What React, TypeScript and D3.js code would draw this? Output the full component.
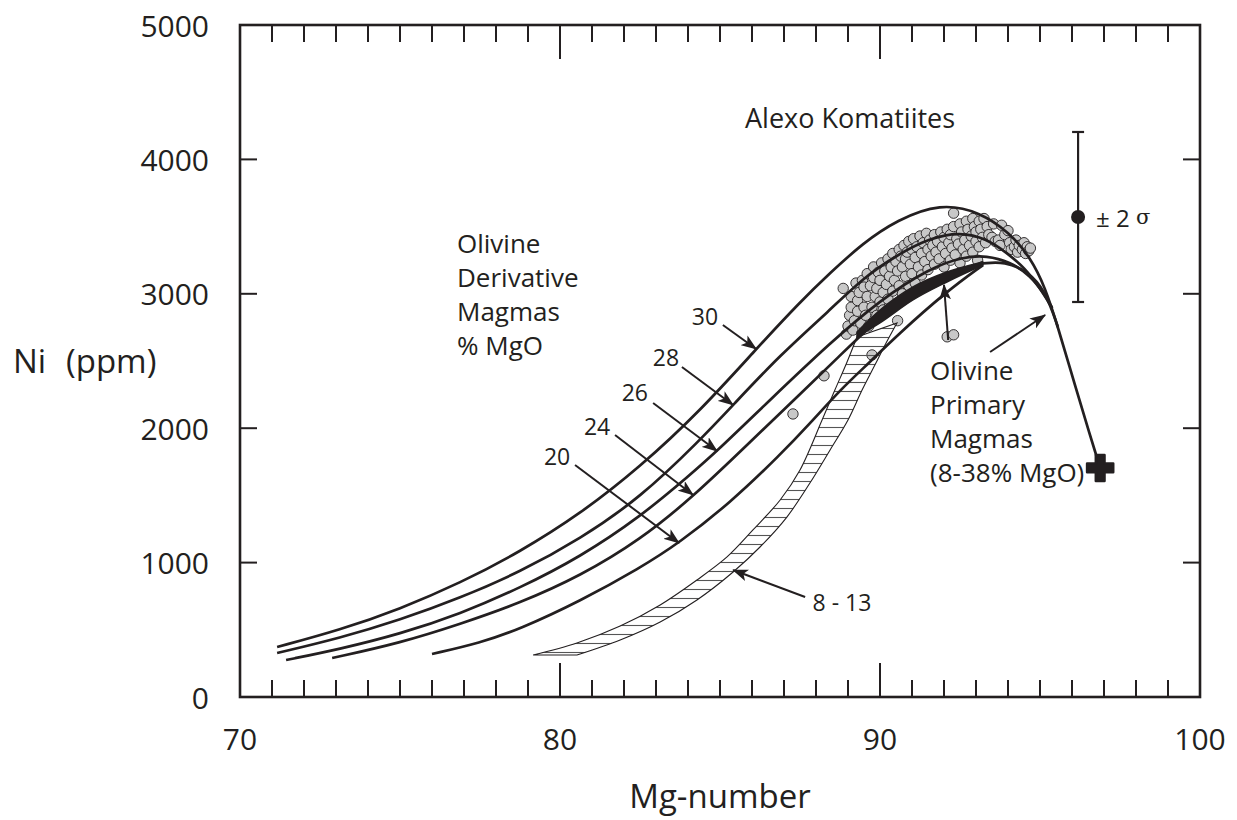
import React from 'react';
import * as d3 from 'd3';

const W = 1237;
const H = 820;
const FONT = '"Open Sans", "Noto Sans", sans-serif';
const INK = '#231f20';

// Axis ticks
const xLabelTicks = [70, 80, 90, 100];
const xMajorInner = [80, 90];
const xMinorTicks = [71, 72, 73, 74, 75, 76, 77, 78, 79, 81, 82, 83, 84, 85, 86, 87, 88, 89, 91, 92, 93, 94, 95, 96, 97, 98, 99];
const yLabelTicks = [0, 1000, 2000, 3000, 4000, 5000];
const yInnerTicks = [1000, 2000, 3000, 4000];

// Olivine derivative magma curves, [Mg-number, Ni ppm]
const curve30: [number, number][] = [
  [71.16, 372], [73.13, 499], [75.0, 655], [76.88, 848], [78.75, 1080], [80.63, 1362],
  [82.5, 1711], [84.38, 2128], [86.13, 2589], [87.5, 2939], [88.44, 3155], [89.47, 3378],
  [90.53, 3549], [91.88, 3675], [93.13, 3610], [94.06, 3452], [94.69, 3274], [95.16, 3051],
  [95.56, 2753], [96.09, 2321], [96.56, 1949], [96.88, 1704],
];
const curve28: [number, number][] = [
  [71.16, 327], [73.13, 439], [75.0, 573], [76.88, 737], [78.75, 930], [80.63, 1176],
  [82.5, 1481], [84.38, 1912], [85.41, 2173], [86.88, 2545], [88.44, 2879], [89.47, 3118],
  [90.53, 3289], [91.56, 3415], [92.5, 3460], [93.34, 3410], [93.97, 3304], [94.53, 3192],
  [95.0, 3043], [95.38, 2894],
];
const curve26: [number, number][] = [
  [71.44, 275], [73.13, 357], [75.0, 469], [76.88, 618], [78.75, 811], [80.63, 1042],
  [82.5, 1339], [84.06, 1652], [84.91, 1830], [86.56, 2210], [88.44, 2634], [90.0, 2954],
  [91.56, 3192], [92.59, 3275], [93.34, 3285], [94.06, 3237], [94.69, 3140], [95.16, 2991],
  [95.38, 2894],
];
const curve24: [number, number][] = [
  [72.88, 290], [75.0, 402], [76.88, 543], [78.75, 699], [80.63, 900], [82.5, 1168],
  [84.19, 1496], [85.94, 1897], [87.5, 2254], [88.75, 2540], [89.69, 2760], [90.63, 2930],
  [91.88, 3100], [93.22, 3237],
];
const curve20: [number, number][] = [
  [76.0, 320], [77.5, 402], [78.75, 506], [80.63, 714], [82.5, 960], [83.72, 1146],
  [85.31, 1443], [86.88, 1801], [87.91, 2061], [88.75, 2284], [89.69, 2493], [90.53, 2690],
  [92.09, 3020], [93.22, 3214],
];
// Olivine primary magmas beyond the 38% MgO end
const primaryTail: [number, number][] = [
  [93.22, 3226], [93.9, 3240], [94.6, 3170], [95.16, 3028], [95.56, 2753],
];

// Olivine primary magmas 8-38% MgO band: Mg-number, lower Ni, upper Ni
const primaryBandMg = [89.28, 90.0, 91.03, 92.09, 93.22];
const primaryBandLow = [2679, 2783, 2954, 3088, 3214];
const primaryBandHigh = [2716, 2879, 3051, 3162, 3237];

// 8 - 13 % MgO derivative band edges
const band813Upper: [number, number][] = [
  [79.16, 312], [80.53, 402], [81.88, 528], [83.13, 685], [84.28, 871], [85.22, 1042],
  [86.03, 1243], [86.88, 1466], [87.5, 1689], [88.19, 2061], [88.59, 2284], [88.97, 2493],
  [89.28, 2679],
];
const band813Lower: [number, number][] = [
  [80.53, 312], [81.88, 424], [83.13, 558], [84.28, 722], [85.41, 930], [86.25, 1116],
  [87.09, 1339], [87.81, 1592], [88.44, 1838], [89.0, 2061], [89.44, 2284], [89.84, 2470],
  [90.19, 2634], [90.53, 2783],
];

// Alexo komatiite olivines
const alexo: [number, number][] = [
  [88.85, 3040], [88.95, 2700], [89.0, 2760], [89.05, 2840], [89.1, 2900], [89.1, 2980],
  [89.15, 2730], [89.2, 2800], [89.25, 3080], [89.3, 2870], [89.3, 2950], [89.35, 3010],
  [89.4, 2780], [89.45, 3100], [89.5, 2900], [89.5, 3050], [89.55, 2840], [89.6, 2980],
  [89.6, 3150], [89.65, 2760], [89.7, 3060], [89.75, 2900], [89.8, 3120], [89.8, 3200],
  [89.85, 2980], [89.9, 2840], [89.9, 3040], [89.95, 3160], [90.0, 2940], [90.0, 3100],
  [90.05, 3230], [90.1, 2880], [90.1, 3010], [90.15, 3170], [90.2, 3070], [90.25, 2960],
  [90.25, 3260], [90.3, 3130], [90.35, 3200], [90.4, 3020], [90.4, 3300], [90.45, 3100],
  [90.5, 2920], [90.5, 3240], [90.55, 3170], [90.6, 3330], [90.6, 3060], [90.65, 3280],
  [90.7, 3000], [90.7, 3200], [90.75, 3360], [90.8, 3130], [90.8, 3260], [90.85, 3310],
  [90.9, 3060], [90.9, 3390], [90.95, 3220], [91.0, 3150], [91.0, 3330], [91.05, 3410],
  [91.1, 3270], [91.1, 3080], [91.15, 3350], [91.2, 3200], [91.25, 3430], [91.3, 3300],
  [91.3, 3140], [91.35, 3380], [91.4, 3240], [91.45, 3450], [91.5, 3330], [91.5, 3180],
  [91.55, 3400], [91.6, 3280], [91.65, 3360], [91.7, 3220], [91.7, 3440], [91.75, 3310],
  [91.8, 3390], [91.85, 3260], [91.9, 3460], [91.95, 3350], [92.0, 3200], [92.0, 3420],
  [92.05, 3300], [92.1, 3480], [92.15, 3380], [92.2, 3250], [92.2, 3440], [92.25, 3340],
  [92.3, 3600], [92.3, 3500], [92.35, 3290], [92.4, 3410], [92.45, 3370], [92.5, 3520],
  [92.5, 3230], [92.55, 3460], [92.6, 3330], [92.65, 3400], [92.7, 3540], [92.7, 3280],
  [92.75, 3480], [92.8, 3360], [92.85, 3430], [92.9, 3560], [92.9, 3310], [92.95, 3500],
  [93.0, 3390], [93.0, 3460], [93.05, 3250], [93.1, 3540], [93.1, 3350], [93.15, 3480],
  [93.2, 3420], [93.25, 3560], [93.3, 3380], [93.35, 3500], [93.4, 3440], [93.5, 3420],
  [93.55, 3520], [93.6, 3390], [93.7, 3400], [93.75, 3360], [93.8, 3510], [93.9, 3440],
  [94.0, 3470], [94.05, 3380], [94.1, 3330], [94.2, 3350], [94.25, 3400], [94.3, 3310],
  [94.35, 3360], [94.45, 3330], [94.5, 3380], [94.55, 3300], [94.6, 3350], [94.65, 3320],
  [94.7, 3340],
  [87.28, 2106], [88.25, 2390], [89.75, 2545], [92.1, 2680], [92.3, 2695], [90.55, 2800],
];

// Analytical uncertainty (Mg-number, Ni low, Ni mean, Ni high)
const errMg = 96.19;
const errNi = [2939, 3571, 4204];

// Mantle olivine end point
const sourcePoint: [number, number] = [96.88, 1704];

// Curve labels: text, label anchor, arrow start, arrow tip
const curveLabels: { text: string; at: [number, number]; from: [number, number]; to: [number, number] }[] = [
  { text: '30', at: [84.53, 2835], from: [85.09, 2768], to: [86.13, 2589] },
  { text: '28', at: [83.31, 2530], from: [83.81, 2455], to: [85.41, 2173] },
  { text: '26', at: [82.34, 2270], from: [82.91, 2188], to: [84.91, 1830] },
  { text: '24', at: [81.16, 2016], from: [81.72, 1949], to: [84.16, 1503] },
  { text: '20', at: [79.91, 1793], from: [80.47, 1726], to: [83.72, 1146] },
];
const label813 = { text: '8 - 13', at: [88.81, 707] as [number, number], from: [87.66, 744] as [number, number], to: [85.41, 945] as [number, number] };
const primaryArrows: { from: [number, number]; to: [number, number] }[] = [
  { from: [92.13, 2656], to: [92.0, 3066] },
  { from: [93.44, 2567], to: [95.16, 2842] },
];

const x = d3.scaleLinear().domain([70, 100]).range([240, 1200]);
const y = d3.scaleLinear().domain([0, 5000]).range([697, 25]);

const smooth = d3
  .line<[number, number]>()
  .x((d) => x(d[0]))
  .y((d) => y(d[1]))
  .curve(d3.curveBasis);

const edge = d3
  .line<[number, number]>()
  .x((d) => x(d[0]))
  .y((d) => y(d[1]))
  .curve(d3.curveCatmullRom.alpha(0.5));

const bandArea = d3
  .area<number>()
  .x((_, i) => x(primaryBandMg[i]))
  .y0((_, i) => y(primaryBandLow[i]))
  .y1((_, i) => y(primaryBandHigh[i]))
  .curve(d3.curveMonotoneX);

function hatchPath(): string {
  const a = edge(band813Upper) || '';
  const b = (edge([...band813Lower].reverse()) || '').replace(/^M/, 'L');
  return a + b + 'Z';
}

const Arrow = ({ from, to }: { from: [number, number]; to: [number, number] }) => (
  <line
    x1={x(from[0])}
    y1={y(from[1])}
    x2={x(to[0])}
    y2={y(to[1])}
    stroke={INK}
    strokeWidth={2}
    markerEnd="url(#arrowhead)"
  />
);

export default function App() {
  const crossPath = d3.symbol().type(d3.symbolCross).size(380)() || '';
  const derivative = [curve30, curve28, curve26, curve24, curve20];
  return (
    <svg
      width={W}
      height={H}
      style={{ position: 'absolute', left: 0, top: 0, background: '#fff' }}
      fontFamily={FONT}
    >
      <defs>
        <marker
          id="arrowhead"
          viewBox="0 0 16 12"
          refX={15}
          refY={6}
          markerWidth={16}
          markerHeight={12}
          markerUnits="userSpaceOnUse"
          orient="auto"
        >
          <path d="M0,0 L16,6 L0,12 L4,6 Z" fill={INK} />
        </marker>
        <pattern id="hatch" patternUnits="userSpaceOnUse" width={20} height={9}>
          <line x1={0} x2={20} y1={4.5} y2={4.5} stroke="#555" strokeWidth={1.1} />
        </pattern>
      </defs>

      {/* frame */}
      <rect x={x(70)} y={y(5000)} width={x(100) - x(70)} height={y(0) - y(5000)} fill="none" stroke={INK} strokeWidth={2.6} />

      {/* Mg-number ticks, bottom and top */}
      {xMinorTicks.map((v) => (
        <g key={'xm' + v} stroke={INK} strokeWidth={2}>
          <line x1={x(v)} x2={x(v)} y1={y(0)} y2={y(0) - 17} />
          <line x1={x(v)} x2={x(v)} y1={y(5000)} y2={y(5000) + 17} />
        </g>
      ))}
      {xMajorInner.map((v) => (
        <g key={'xM' + v} stroke={INK} strokeWidth={2}>
          <line x1={x(v)} x2={x(v)} y1={y(0)} y2={y(0) - 34} />
          <line x1={x(v)} x2={x(v)} y1={y(5000)} y2={y(5000) + 34} />
        </g>
      ))}
      {/* Ni ticks, left and right */}
      {yInnerTicks.map((v) => (
        <g key={'y' + v} stroke={INK} strokeWidth={2}>
          <line x1={x(70)} x2={x(70) + 17} y1={y(v)} y2={y(v)} />
          <line x1={x(100)} x2={x(100) - 17} y1={y(v)} y2={y(v)} />
        </g>
      ))}
      {xLabelTicks.map((v) => (
        <text key={'xl' + v} x={x(v)} y={738} textAnchor="middle" dominantBaseline="central" fontSize={30} fill={INK}>
          {v}
        </text>
      ))}
      {yLabelTicks.map((v) => (
        <text key={'yl' + v} x={209} y={y(v)} textAnchor="end" dominantBaseline="central" fontSize={30} fill={INK}>
          {v}
        </text>
      ))}
      <text x={720} y={808} textAnchor="middle" fontSize={33} fill={INK}>
        Mg-number
      </text>
      <text y={360} dominantBaseline="central" fontSize={33} fill={INK}>
        <tspan x={13}>Ni</tspan>
        <tspan x={66}>(ppm)</tspan>
      </text>

      {/* komatiite olivine analyses */}
      {alexo.map((d, i) => (
        <circle key={'p' + i} cx={x(d[0])} cy={y(d[1])} r={5.2} fill="#c8c8c8" stroke={INK} strokeWidth={0.9} />
      ))}

      {/* 8 - 13 % MgO band */}
      <path d={hatchPath()} fill="url(#hatch)" stroke={INK} strokeWidth={1.1} />

      {/* derivative magma curves */}
      {derivative.map((c, i) => (
        <path key={'c' + i} d={smooth(c) || ''} fill="none" stroke={INK} strokeWidth={2.7} />
      ))}
      <path d={smooth(primaryTail) || ''} fill="none" stroke={INK} strokeWidth={2.7} />

      {/* primary magma band */}
      <path d={bandArea(primaryBandMg) || ''} fill={INK} stroke={INK} strokeWidth={1.5} strokeLinejoin="round" />

      {/* curve labels */}
      {curveLabels.map((l) => (
        <g key={'l' + l.text}>
          <text x={x(l.at[0])} y={y(l.at[1])} textAnchor="middle" dominantBaseline="central" fontSize={23} fill={INK}>
            {l.text}
          </text>
          <Arrow from={l.from} to={l.to} />
        </g>
      ))}
      <text x={x(label813.at[0])} y={y(label813.at[1])} textAnchor="middle" dominantBaseline="central" fontSize={23} fill={INK}>
        {label813.text}
      </text>
      <Arrow from={label813.from} to={label813.to} />
      {primaryArrows.map((a, i) => (
        <Arrow key={'pa' + i} from={a.from} to={a.to} />
      ))}

      {/* annotations */}
      <text x={745} y={117} dominantBaseline="central" fontSize={27} fill={INK}>
        Alexo Komatiites
      </text>
      <text fontSize={26} fill={INK}>
        <tspan x={457} y={253}>Olivine</tspan>
        <tspan x={457} y={287}>Derivative</tspan>
        <tspan x={457} y={321}>Magmas</tspan>
        <tspan x={457} y={355}>% MgO</tspan>
      </text>
      <text fontSize={26} fill={INK}>
        <tspan x={930} y={380}>Olivine</tspan>
        <tspan x={930} y={414}>Primary</tspan>
        <tspan x={930} y={448}>Magmas</tspan>
        <tspan x={930} y={482}>(8-38% MgO)</tspan>
      </text>

      {/* ± 2σ error bar */}
      <g stroke={INK} strokeWidth={2.2}>
        <line x1={x(errMg)} x2={x(errMg)} y1={y(errNi[0])} y2={y(errNi[2])} />
        <line x1={x(errMg) - 6} x2={x(errMg) + 6} y1={y(errNi[0])} y2={y(errNi[0])} />
        <line x1={x(errMg) - 6} x2={x(errMg) + 6} y1={y(errNi[2])} y2={y(errNi[2])} />
      </g>
      <circle cx={x(errMg)} cy={y(errNi[1])} r={7} fill={INK} />
      <text x={1096} y={y(errNi[1])} dominantBaseline="central" fontSize={24} fill={INK}>
        ± 2 <tspan fontFamily="DejaVu Serif" fontSize={21}>σ</tspan>
      </text>

      {/* source olivine */}
      <path
        d={crossPath}
        transform={`translate(${x(sourcePoint[0])},${y(sourcePoint[1])})`}
        fill={INK}
        stroke={INK}
        strokeWidth={2.5}
        strokeLinejoin="round"
      />
    </svg>
  );
}
